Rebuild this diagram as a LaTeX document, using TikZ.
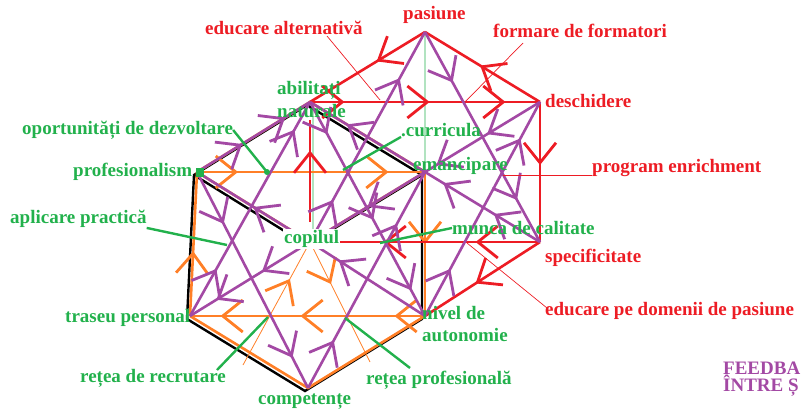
\documentclass[tikz,border=0pt]{standalone}
\usepackage{fontspec}
\setmainfont{Liberation Serif}
\usetikzlibrary{arrows.meta,decorations.markings}
\definecolor{pur}{RGB}{163,73,164}
\definecolor{redp}{RGB}{237,28,36}
\definecolor{grn}{RGB}{34,177,76}
\definecolor{org}{RGB}{255,127,39}
\tikzset{
  ah/.style={postaction={decorate,decoration={markings,mark=at position #1 with {\arrow{Straight Barb[length=20pt,width=32pt,line width=2.8pt]}}}}},
  pl/.style={draw=pur,line width=2.6pt},
  rl/.style={draw=redp,line width=2.6pt},
  ol/.style={draw=org,line width=2.6pt},
  olt/.style={draw=org,line width=0.8pt},
  bl/.style={draw=black,line width=2.4pt},
  gt/.style={draw=grn,line width=0.8pt},
  gp/.style={draw=grn,line width=2.4pt},
  rt/.style={draw=redp,line width=0.7pt},
  lbl/.style={font=\bfseries\fontsize{19}{21}\selectfont,inner sep=0pt,anchor=west},
  gl/.style={lbl,text=grn},
  rlb/.style={lbl,text=redp},
}
\begin{document}
\begin{tikzpicture}[x=1pt,y=-1pt]
\useasboundingbox (0,0) rectangle (801,415);
% lattice points
\coordinate (A) at (310,102);
\coordinate (P) at (425,32);
\coordinate (D) at (540,102);
\coordinate (Pr) at (197,172);
\coordinate (E) at (425,172);
\coordinate (C) at (310,242);
\coordinate (S) at (540,242);
\coordinate (N) at (425,316);
\coordinate (T) at (190,316);
\coordinate (K) at (308,388);
\coordinate (Rv1) at (310,222);
\coordinate (Rv2) at (310,120);
\coordinate (Ob1) at (243,365);
\coordinate (Ob2) at (370,362);
% thin green construction lines
\draw[gt] (P)--(D) (D)--(S) (P)--(N) ([xshift=3pt]A)--([xshift=3pt]C) (A)--(E) (C)--(N) (P)--(S);
% black hexagon
\begin{scope}[transform canvas={xshift=-3pt,yshift=-3pt}]
\draw[bl] (Pr)--(A)--(E)--(N)--(K)--(T)--cycle (Pr)--(C)--(E);
\end{scope}
% orange lines
\draw[ol] (Pr)--(A)--(E) (N)--(K)--(T) (Pr)--(C)--(E);
\draw[ol,ah=0.45] (T)--(Pr);
\draw[ol,ah=0.5] (E)--(N);
\draw[ol,ah=0.18,ah=0.84] (Pr)--(E);
\draw[ol,ah=0.13,ah=0.53,ah=0.87] (N)--(T);
\draw[olt,ah=0.7] (Ob1)--(C);
\draw[olt,ah=0.35] (C)--(Ob2);
% red lines
\draw[rl,ah=0.15,ah=0.52,ah=0.85] (A)--(D);
\draw[rl,ah=0.42] (P)--(A);
\draw[rl,ah=0.52] (D)--(P);
\draw[rl,ah=0.45] (D)--(S);
\draw[rl,ah=0.28,ah=0.68] (S)--(C);
\draw[rl,ah=0.56] (S)--(N);
\draw[rl,ah=0.7] (Rv1)--(Rv2);
% purple arrows
\draw[pl,ah=0.2,ah=0.78] (C)--(P);
\draw[pl,ah=0.24,ah=0.8] (P)--(S);
\draw[pl,ah=0.23,ah=0.45,ah=0.75] (D)--(C);
\draw[pl,ah=0.2,ah=0.42,ah=0.84] (S)--(A);
\draw[pl,ah=0.22,ah=0.83] (N)--(D);
\draw[pl,ah=0.24,ah=0.86] (Pr)--(K);
\draw[pl,ah=0.22,ah=0.87] (T)--(A);
\draw[pl,ah=0.4,ah=0.78] (C)--(T);
\draw[pl,ah=0.22,ah=0.76] (K)--(E);
\draw[pl,ah=0.75] (N)--(C);
\draw[pl,ah=0.15,ah=0.55,ah=0.88] (A)--(N);
\draw[pl,ah=0.5] (C)--(Pr);
\draw[pl,ah=0.4,ah=0.78] (Pr)--(A);
% labels
\node[rlb] (lpas) at (403,15) {pasiune};
\node[rlb] (lea) at (205,28) {educare alternativă};
\node[rlb] (lff) at (493,31) {formare de formatori};
\node[gl] (lab1) at (277,90) {abilitați};
\node[gl] (lab2) at (277,111) {naturale};
\node[rlb] (ldes) at (545,101) {deschidere};
\node[gl] (lop) at (22,130) {oportunități de dezvoltare};
\node[gl] (lcur) at (401,130) {.curricula};
\node[gl] (lem) at (413,166) {emancipare};
\node[rlb] (lpe) at (592,168) {program enrichment};
\node[gl] (lpro) at (73,172) {profesionalism};
\node[gl] (lap) at (10,219) {aplicare practică};
\node[gl] (lmun) at (452,228) {munca de calitate};
\node[gl,fill=white,inner sep=1pt] (lcop) at (283,239) {copilul};
\node[rlb] (lspe) at (545,258) {specificitate};
\node[gl] (ltr) at (65,318) {traseu personal};
\node[gl] (lniv1) at (422,313) {nivel de};
\node[gl] (lniv2) at (422,335) {autonomie};
\node[rlb] (ledp) at (545,311) {educare pe domenii de pasiune};
\node[gl] (lrec) at (80,378) {rețea de recrutare};
\node[gl] (lrp) at (366,380) {rețea profesională};
\node[gl] (lcom) at (258,402) {competențe};
\node[lbl,text=pur] (lfb1) at (723,368) {FEEDBA};
\node[lbl,text=pur] (lfb2) at (723,386) {ÎNTRE Ș};
% pointer targets
\coordinate (gop) at (267,172);
\coordinate (gap) at (227,245);
\coordinate (gcur) at (343,170);
\coordinate (gmun) at (380,243);
\coordinate (grec0) at (217,370);
\coordinate (grec) at (268,317);
\coordinate (grp0) at (410,368);
\coordinate (grp) at (345,318);
\coordinate (rea0) at (327,36);
\coordinate (rea) at (380,100);
\coordinate (rff0) at (523,43);
\coordinate (rff) at (465,102);
\coordinate (rpe) at (503,175);
\coordinate (redp0) at (547,308);
\coordinate (redp) at (467,243);
% green pointers
\draw[gp] (lop.east)--(gop);
\fill[grn] (gop) circle (3);
\fill[grn] (196,168) rectangle (204,177);
\draw[gp] (lap.south east)--(gap);
\draw[gp] (lcur.south west)--(gcur);
\draw[gp] (lmun.west)--(gmun);
\draw[gp] (grec0)--(grec);
\draw[gp] (grp0)--(grp);
% red thin pointers
\draw[rt] (rea0)--(rea);
\draw[rt] (rff0)--(rff);
\draw[rt] ([yshift=-7pt]lpe.west)--(rpe);
\draw[rt] (redp0)--(redp);
\end{tikzpicture}
\end{document}
